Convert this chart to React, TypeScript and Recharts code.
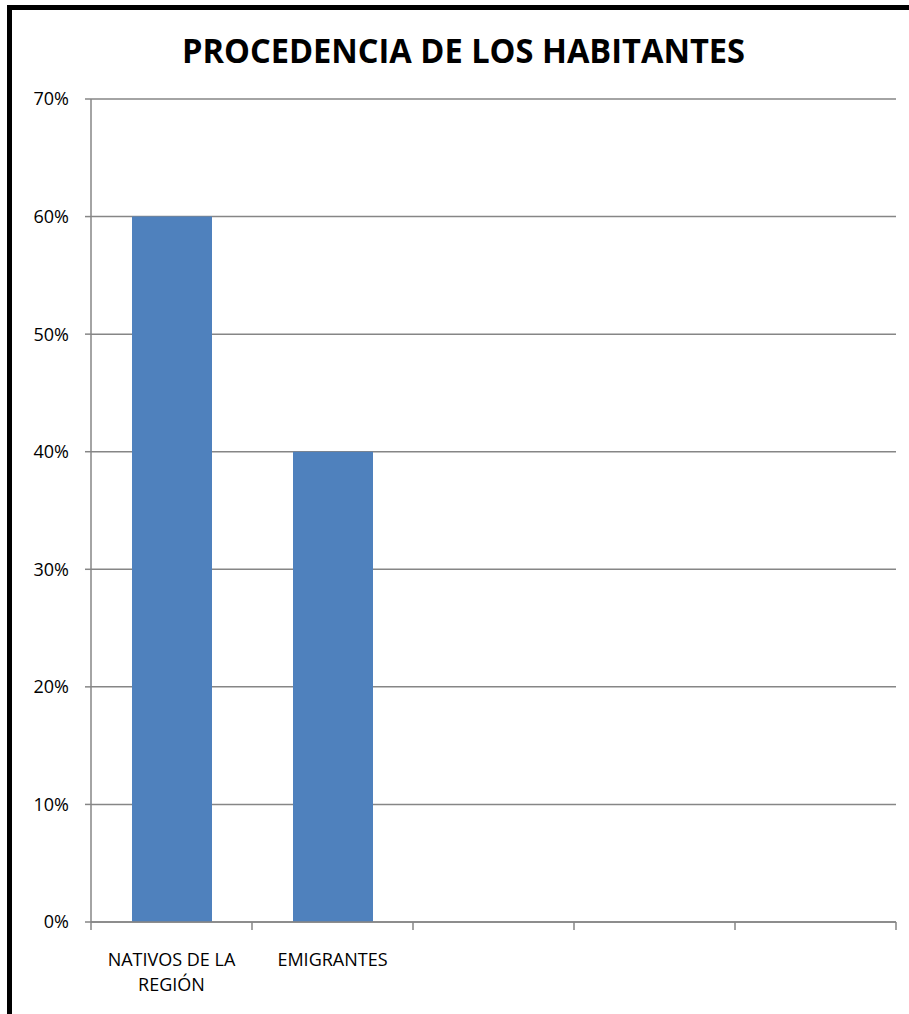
import React from 'react';
import { BarChart, Bar, XAxis, YAxis, CartesianGrid, Text } from 'recharts';

const categories = ['NATIVOS DE LA REGIÓN', 'EMIGRANTES', '', '', ''];
const shares = [0.6, 0.4, null, null, null];
const yTicks = [0, 0.1, 0.2, 0.3, 0.4, 0.5, 0.6, 0.7];
const title = 'PROCEDENCIA DE LOS HABITANTES';

const data = categories.map((c, i) => ({ name: c, value: shares[i] }));

const FONT = '"Open Sans", sans-serif';
const GRID = '#868686';

// Excel puts the x ticks between categories, so draw them at the band edges
const CategoryTick = (props: any) => {
  const { x, y, payload, index } = props;
  const half = payload.offset || 0;
  return (
    <g>
      <line x1={x - half} x2={x - half} y1={y - 8} y2={y} stroke={GRID} strokeWidth={1.5} />
      {index === categories.length - 1 && (
        <line x1={x + half} x2={x + half} y1={y - 8} y2={y} stroke={GRID} strokeWidth={1.5} />
      )}
      <Text
        x={x}
        y={953}
        width={155}
        textAnchor="middle"
        verticalAnchor="start"
        lineHeight={25}
        fontFamily={FONT}
        fontSize={18}
        fill="#000"
      >
        {payload.value}
      </Text>
    </g>
  );
};

export default function App() {
  return (
    <div style={{ position: 'absolute', left: 0, top: 0, width: 909, height: 1014, background: '#fff' }}>
      <div
        style={{
          position: 'absolute',
          left: 7,
          top: 5,
          width: 909,
          height: 1014,
          borderLeft: '5px solid #000',
          borderTop: '5px solid #000',
        }}
      />
      <svg width={909} height={90} style={{ position: 'absolute', left: 0, top: 0 }}>
        <text
          x={182}
          y={63}
          textLength={563}
          lengthAdjust="spacingAndGlyphs"
          fontFamily={FONT}
          fontWeight="bold"
          fontSize={34}
          fill="#000"
        >
          {title}
        </text>
      </svg>
      <div style={{ position: 'absolute', left: 0, top: 0 }}>
        <BarChart
          width={909}
          height={1014}
          data={data}
          margin={{ top: 99, right: 13, left: 0, bottom: 12 }}
        >
          <CartesianGrid vertical={false} stroke={GRID} strokeWidth={1.5} />
          <XAxis
            dataKey="name"
            height={80}
            interval={0}
            tickLine={false}
            tickSize={8}
            tickMargin={0}
            axisLine={{ stroke: GRID, strokeWidth: 1.5 }}
            tick={<CategoryTick />}
          />
          <YAxis
            width={91}
            domain={[0, 0.7]}
            ticks={yTicks}
            interval={0}
            tickFormatter={(v: number) => Math.round(v * 100) + '%'}
            tickSize={6}
            tickMargin={16}
            axisLine={{ stroke: GRID, strokeWidth: 1.5 }}
            tickLine={{ stroke: GRID, strokeWidth: 1.5 }}
            tick={{ fontFamily: FONT, fontSize: 18, fill: '#000' }}
          />
          <Bar dataKey="value" fill="#4F81BD" barSize={80} isAnimationActive={false} />
        </BarChart>
      </div>
    </div>
  );
}
